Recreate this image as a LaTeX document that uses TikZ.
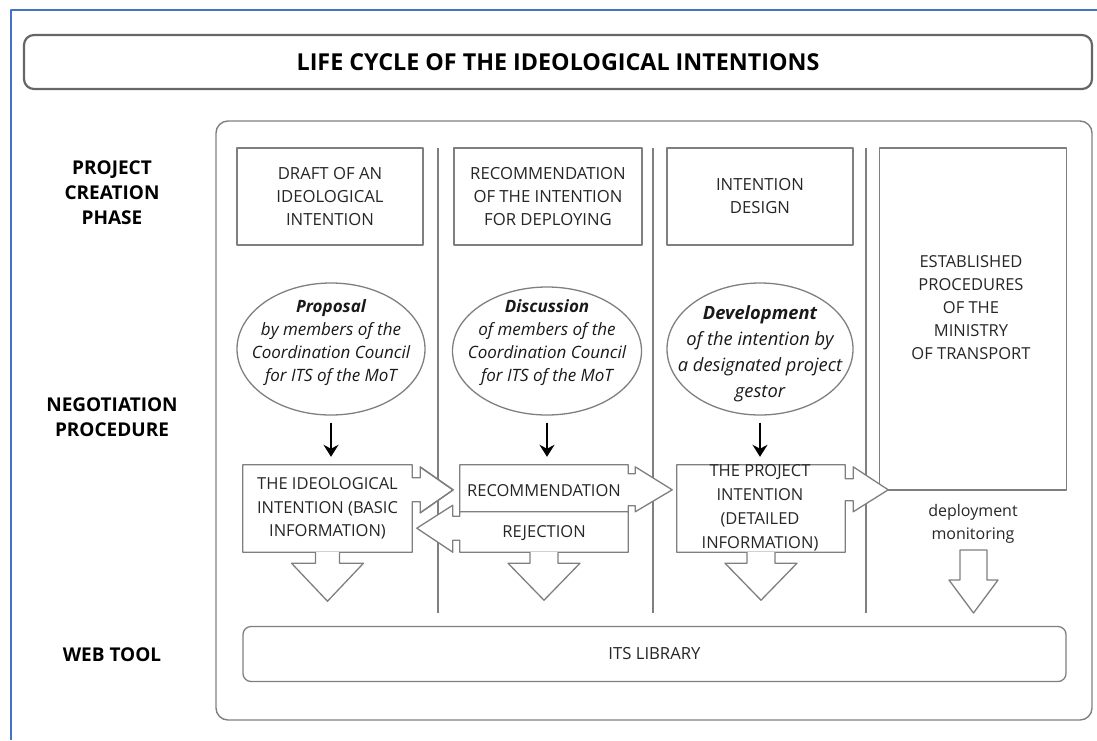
\documentclass[tikz,border=0pt]{standalone}
\usepackage{fontspec}
\setmainfont{Open Sans}
\usetikzlibrary{arrows.meta, shapes.geometric}

\definecolor{lineg}{HTML}{7F7F7F}
\definecolor{frameblue}{HTML}{4472C4}

\begin{document}
\begin{tikzpicture}[x=1pt, y=-1pt, line join=round]

\useasboundingbox (0,0) rectangle (1097,740);
\draw[frameblue, line width=2pt] (11,740) -- (11,10) -- (1097,10);

\node (title) at (558, 62) [draw=black!60, line width=2.2pt, rounded corners=10pt, minimum width=1068pt, minimum height=54pt, font=\fontsize{23.3}{27}\selectfont\bfseries] {LIFE CYCLE OF THE IDEOLOGICAL INTENTIONS};

\node (frame) at (654, 420.5) [draw=lineg, line width=1.4pt, rounded corners=12pt, minimum width=876pt, minimum height=599pt] {};

\begin{scope}[every node/.style={align=center, font=\fontsize{19}{25}\selectfont\bfseries}]
    \node (lproj) at (112, 193) {PROJECT\\CREATION\\PHASE};
    \node (lneg) at (112, 417) {NEGOTIATION\\PROCEDURE};
    \node (lweb) at (112, 655) {WEB TOOL};
\end{scope}

\draw[lineg, line width=1.3pt] (438, 148) -- (438, 613);
\draw[lineg, line width=1.3pt] (653, 148) -- (653, 613);
\draw[lineg, line width=1.3pt] (866, 148) -- (866, 613);

\begin{scope}[every node/.style={draw=lineg, line width=1.3pt, fill=white, align=center, text=black!85, font=\fontsize{16.7}{23}\selectfont}]
    \node (draft) at (330, 196.5) [minimum width=186pt, minimum height=97pt] {DRAFT OF AN\\IDEOLOGICAL\\INTENTION};
    \node (recom) at (548, 196.5) [minimum width=188pt, minimum height=97pt, inner xsep=1pt] {RECOMMENDATION\\OF THE INTENTION\\FOR DEPLOYING};
    \node (design) at (760, 196.5) [minimum width=186pt, minimum height=97pt] {INTENTION\\DESIGN};
    \node (minist) at (973, 319) [minimum width=187pt, minimum height=342pt] {};
    \node (lib) at (654.5, 654) [rounded corners=8pt, minimum width=823pt, minimum height=55pt] {ITS LIBRARY};
\end{scope}
\node (proced) at (971, 308) [align=center, text=black!85, font=\fontsize{16.5}{23}\selectfont] {ESTABLISHED\\PROCEDURES\\OF THE\\MINISTRY\\OF TRANSPORT};

\begin{scope}[every node/.style={ellipse, draw=lineg, line width=1.3pt, inner sep=0pt}]
    \node (prop) at (331, 349) [minimum width=188pt, minimum height=132pt] {};
    \node (disc) at (547, 351) [minimum width=189pt, minimum height=128pt] {};
    \node (devel) at (760, 349) [minimum width=186pt, minimum height=132pt] {};
\end{scope}

\begin{scope}[every node/.style={align=center, text=black!90, font=\fontsize{17}{23}\selectfont\itshape}]
    \node (propt) at (331, 343) {\textbf{Proposal}\\by members of the\\Coordination Council\\for ITS of the MoT};
    \node (disct) at (547, 343) {\textbf{Discussion}\\of members of the\\Coordination Council\\for ITS of the MoT};
    \node (develt) at (760, 354) [font=\fontsize{18.3}{26}\selectfont\itshape] {\textbf{Development}\\of the intention by\\a designated project\\gestor};
\end{scope}

\begin{scope}[every node/.style={inner sep=0pt}]
    \node (ideabox) at (327.5, 508.5) [minimum width=169pt, minimum height=87pt] {};
    \node (recobox) at (544, 488.5) [minimum width=168pt, minimum height=47pt] {};
    \node (rejbox) at (544, 532) [minimum width=168pt, minimum height=40pt] {};
    \node (projbox) at (761, 508.5) [minimum width=168pt, minimum height=87pt] {};
\end{scope}

\begin{scope}[every path/.style={draw=lineg, line width=1.3pt}]
    \path[fill=white] (ideabox.north west) -- (ideabox.north east) -- ++(0,13) -- ++(8,0) -- ++(0,-11) -- ++(33,23) -- ++(-33,23) -- ++(0,-11) -- ++(-8,0) -- (ideabox.south east) -- (ideabox.south west) -- cycle;
    \path[fill=white] (recobox.north west) -- (recobox.north east) -- ++(0,9) -- ++(7,0) -- ++(0,-7) -- ++(37,23) -- ++(-37,22) -- ++(0,-6) -- ++(-7,0) -- (recobox.south east) -- (recobox.south west) -- cycle;
    \path[fill=white] (rejbox.north east) -- (rejbox.south east) -- (rejbox.south west) -- ++(0,-12) -- ++(-7,0) -- ++(0,12) -- ++(-36,-24) -- ++(36,-23) -- ++(0,11) -- ++(7,0) -- (rejbox.north west) -- cycle;
    \path[fill=white] (projbox.north west) -- (projbox.north east) -- ++(0,14) -- ++(8,0) -- ++(0,-12) -- ++(35,23) -- ++(-35,22) -- ++(0,-11) -- ++(-8,0) -- (projbox.south east) -- (projbox.south west) -- cycle;
    \path (420, 467) -- (453, 490) -- (420, 513);

    \path[fill=white] ([xshift=-12pt]ideabox.south) -- ++(0,11) -- ++(-24,0) -- ++(36,38) -- ++(36,-38) -- ++(-24,0) -- ++(0,-11);
    \path[fill=white] ([xshift=-14pt]rejbox.south) -- ++(0,11) -- ++(-22,0) -- ++(36,37) -- ++(36,-37) -- ++(-22,0) -- ++(0,-11);
    \path[fill=white] ([xshift=-14pt]projbox.south) -- ++(0,11) -- ++(-22,0) -- ++(36,37) -- ++(36,-37) -- ++(-22,0) -- ++(0,-11);
    \path[fill=white] (960, 550) -- (987, 550) -- (987, 580) -- (998, 580) -- (973.5, 613) -- (949, 580) -- (960, 580) -- cycle;
\end{scope}

\begin{scope}[every node/.style={align=center, text=black!85, font=\fontsize{16.5}{23.5}\selectfont}]
    \node (ideat) at (ideabox) {THE IDEOLOGICAL\\INTENTION (BASIC\\INFORMATION)};
    \node (recot) at (544, 491) {RECOMMENDATION};
    \node (rejt) at (544, 533) {REJECTION};
    \node (projt) at (760, 507.5) [font=\fontsize{16.5}{24}\selectfont] {THE PROJECT\\INTENTION\\(DETAILED\\INFORMATION)};
    \node (monit) at (973, 524) [font=\fontsize{16}{23}\selectfont] {deployment\\monitoring};
\end{scope}

\begin{scope}[>={Stealth[length=12pt, width=15pt]}, every edge/.style={draw=black, line width=2pt, shorten <=7pt, shorten >=8pt}]
    \path [->] (prop.south) edge (prop.south |- ideabox.north);
    \path [->] (disc.south) edge (disc.south |- recobox.north);
    \path [->] (devel.south) edge (devel.south |- projbox.north);
\end{scope}

\end{tikzpicture}
\end{document}
